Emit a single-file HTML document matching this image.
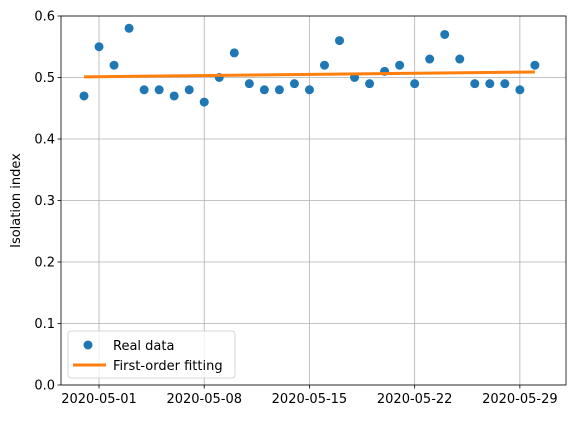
<!DOCTYPE html>
<html><head><meta charset="utf-8"><style>
body{margin:0;background:#fff;font-family:"DejaVu Sans",sans-serif}
</style></head><body>
<svg id="chart" width="569" height="418" xmlns="http://www.w3.org/2000/svg" font-family="DejaVu Sans, sans-serif"></svg>
<script>
const dates=["04-30","05-01","05-02","05-03","05-04","05-05","05-06","05-07","05-08","05-09","05-10","05-11","05-12","05-13","05-14","05-15","05-16","05-17","05-18","05-19","05-20","05-21","05-22","05-23","05-24","05-25","05-26","05-27","05-28","05-29","05-30"];
const values=[0.47,0.55,0.52,0.58,0.48,0.48,0.47,0.48,0.46,0.50,0.54,0.49,0.48,0.48,0.49,0.48,0.52,0.56,0.50,0.49,0.51,0.52,0.49,0.53,0.57,0.53,0.49,0.49,0.49,0.48,0.52];
const fitStart=0.501, fitEnd=0.509;
const yTicks=[0,0.1,0.2,0.3,0.4,0.5,0.6];
const xTickIdx=[1,8,15,22,29];
const xTickLabels=["2020-05-01","2020-05-08","2020-05-15","2020-05-22","2020-05-29"];

const L=61,R=566,T=16,B=385;
const x=i=>84+i*15.03;
const y=v=>B-(v/0.6)*(B-T);
const svg=document.getElementById('chart');
const NS="http://www.w3.org/2000/svg";
function mk(tag,attrs,parent){const e=document.createElementNS(NS,tag);for(const k in attrs)e.setAttribute(k,attrs[k]);(parent||svg).appendChild(e);return e;}

yTicks.forEach((t,i)=>{
 const g=mk('line',{x1:L,x2:R,y1:y(t),y2:y(t),stroke:'#b0b0b0','stroke-width':0.8});
 
 
 mk('line',{x1:L-3.5,x2:L,y1:y(t),y2:y(t),stroke:'#000','stroke-width':0.8});
 const tx=mk('text',{x:L-6,y:y(t)+4.5,'text-anchor':'end','font-size':13,fill:'#000'});
 tx.textContent=t.toFixed(1);
 
 
});
xTickIdx.forEach((d,i)=>{
 const g=mk('line',{x1:x(d),x2:x(d),y1:T,y2:B,stroke:'#b0b0b0','stroke-width':0.8});
 
 
 mk('line',{x1:x(d),x2:x(d),y1:B,y2:B+3.5,stroke:'#000','stroke-width':0.8});
 const tx=mk('text',{x:x(d),y:B+18,'text-anchor':'middle','font-size':13,fill:'#000'});
 tx.textContent=xTickLabels[i];
 
 
});
values.forEach((v,i)=>{
 const c=mk('circle',{cx:x(i),cy:y(v),r:4.5,fill:'#1f77b4'});
 
 
});
const fl=mk('line',{x1:x(0),x2:x(values.length-1),y1:y(fitStart),y2:y(fitEnd),stroke:'#ff7f0e','stroke-width':3});


const fr=mk('rect',{x:L,y:T,width:R-L,height:B-T,fill:'none',stroke:'#000','stroke-width':0.8});


const yt=mk('text',{x:0,y:0,transform:`translate(20,${(T+B)/2}) rotate(-90)`,'text-anchor':'middle','font-size':13,fill:'#000'});
yt.textContent='Isolation index';


const lg=mk('g',{});


mk('rect',{x:68,y:331,width:167,height:47,rx:3,fill:'#fff','fill-opacity':0.8,stroke:'#ccc','stroke-width':0.8},lg);
mk('circle',{cx:88,cy:345,r:4.5,fill:'#1f77b4'},lg);
const t1=mk('text',{x:113,y:350,'font-size':13,fill:'#000'},lg);t1.textContent='Real data';


mk('line',{x1:73,x2:106,y1:365,y2:365,stroke:'#ff7f0e','stroke-width':3},lg);
const t2=mk('text',{x:113,y:370,'font-size':13,fill:'#000'},lg);t2.textContent='First-order fitting';


</script>
</body></html>
